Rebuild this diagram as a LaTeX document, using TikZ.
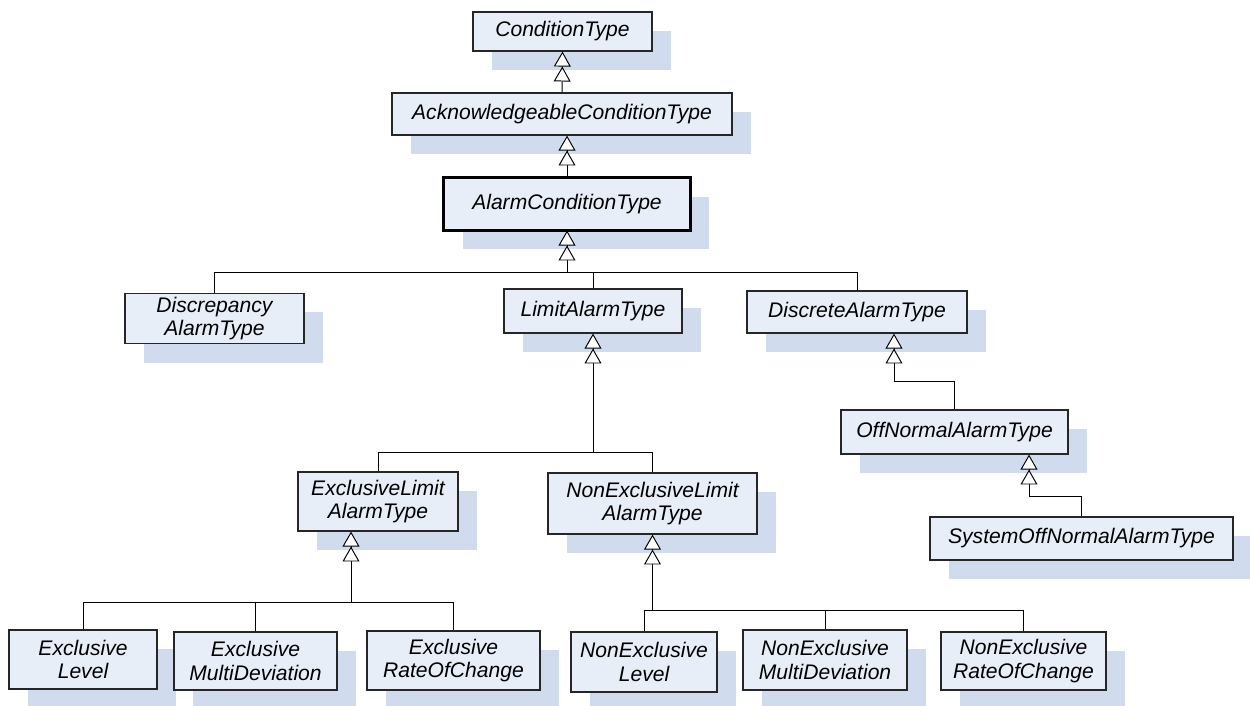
\documentclass[tikz,border=0pt]{standalone}
\usepackage{fontspec}
\setmainfont{Liberation Sans}
\usetikzlibrary{arrows.meta,shadows}
\definecolor{boxfill}{RGB}{232,238,248}
\definecolor{boxshade}{RGB}{208,220,238}
\begin{document}
\begin{tikzpicture}[
  typebox/.style={draw=black!85,line width=0.7pt,fill=boxfill,align=center,
    font=\fontsize{12}{13.5}\selectfont\itshape,inner sep=2pt,
    drop shadow={shadow xshift=0.37cm,shadow yshift=-0.38cm,fill=boxshade,opacity=1}},
  inh/.style={line width=0.55pt,-{Triangle[fill=white,length=8.5pt,width=9.6pt]Triangle[fill=white,length=8.5pt,width=9.6pt]}},
  link/.style={line width=0.55pt}]
\useasboundingbox (0,0) rectangle (25,-14.12);
% top chain
\node[typebox,minimum width=3.58cm,minimum height=0.78cm](cond) at (11.25,-0.63){ConditionType};
\node[typebox,minimum width=6.80cm,minimum height=0.84cm](ack) at (11.24,-2.28){AcknowledgeableConditionType};
\node[typebox,minimum width=4.92cm,minimum height=1.04cm](alarm) at (11.34,-4.08){AlarmConditionType};
\draw[line width=1.5pt] (alarm.south west) rectangle (alarm.north east);
% second level
\node[typebox,minimum width=3.58cm,minimum height=0.94cm](disc) at (4.29,-6.37){Discrepancy\\AlarmType};
\node[typebox,minimum width=3.56cm,minimum height=0.88cm](limit) at (11.86,-6.22){LimitAlarmType};
\node[typebox,minimum width=4.40cm,minimum height=0.84cm](discrete) at (17.14,-6.24){DiscreteAlarmType};
\node[typebox,minimum width=4.54cm,minimum height=0.88cm](offnormal) at (19.09,-8.64){OffNormalAlarmType};
\node[typebox,minimum width=6.06cm,minimum height=0.86cm](sysoff) at (21.63,-10.77){SystemOffNormalAlarmType};
% limit alarms
\node[typebox,minimum width=3.20cm,minimum height=1.18cm](exlimit) at (7.56,-10.03){ExclusiveLimit\\AlarmType};
\node[typebox,minimum width=4.18cm,minimum height=1.22cm](nelimit) at (13.05,-10.07){NonExclusiveLimit\\AlarmType};
% bottom row
\node[typebox,minimum width=2.96cm,minimum height=1.18cm](exlevel) at (1.66,-13.19){Exclusive\\Level};
\node[typebox,minimum width=3.26cm,minimum height=1.16cm](exmulti) at (5.11,-13.22){Exclusive\\MultiDeviation};
\node[typebox,minimum width=3.46cm,minimum height=1.18cm](exrate) at (9.07,-13.21){Exclusive\\RateOfChange};
\node[typebox,minimum width=2.92cm,minimum height=1.20cm](nelevel) at (12.88,-13.24){NonExclusive\\Level};
\node[typebox,minimum width=3.28cm,minimum height=1.20cm](nemulti) at (16.50,-13.20){NonExclusive\\MultiDeviation};
\node[typebox,minimum width=3.30cm,minimum height=1.16cm](nerate) at (20.47,-13.22){NonExclusive\\RateOfChange};
% bus points
\coordinate (bal) at (11.34,-5.44);
\coordinate (bli) at (11.86,-9.04);
\coordinate (bex) at (7.02,-12.04);
\coordinate (bne) at (13.05,-12.20);
\coordinate (bdi) at (17.88,-7.62);
\coordinate (bof) at (20.58,-9.92);
% inheritance
\draw[inh] (ack.north) -- (cond.south);
\draw[inh] (alarm.north) -- (alarm.north |- ack.south);
\draw[link] (disc.north) |- (bal);
\draw[link] (limit.north) |- (bal);
\draw[link] (discrete.north) |- (bal);
\draw[inh] (bal) -- (alarm.south);
\draw[link] (exlimit.north) |- (bli);
\draw[link] (nelimit.north) |- (bli);
\draw[inh] (bli) -- (limit.south);
\draw[inh] (offnormal.north) |- (bdi) -- (bdi |- discrete.south);
\draw[inh] (sysoff.north) |- (bof) -- (bof |- offnormal.south);
\draw[link] (exlevel.north) |- (bex);
\draw[link] (exmulti.north) |- (bex);
\draw[link] (exrate.north) |- (bex);
\draw[inh] (bex) -- (bex |- exlimit.south);
\draw[link] (nelevel.north) |- (bne);
\draw[link] (nemulti.north) |- (bne);
\draw[link] (nerate.north) |- (bne);
\draw[inh] (bne) -- (nelimit.south);
\end{tikzpicture}
\end{document}
